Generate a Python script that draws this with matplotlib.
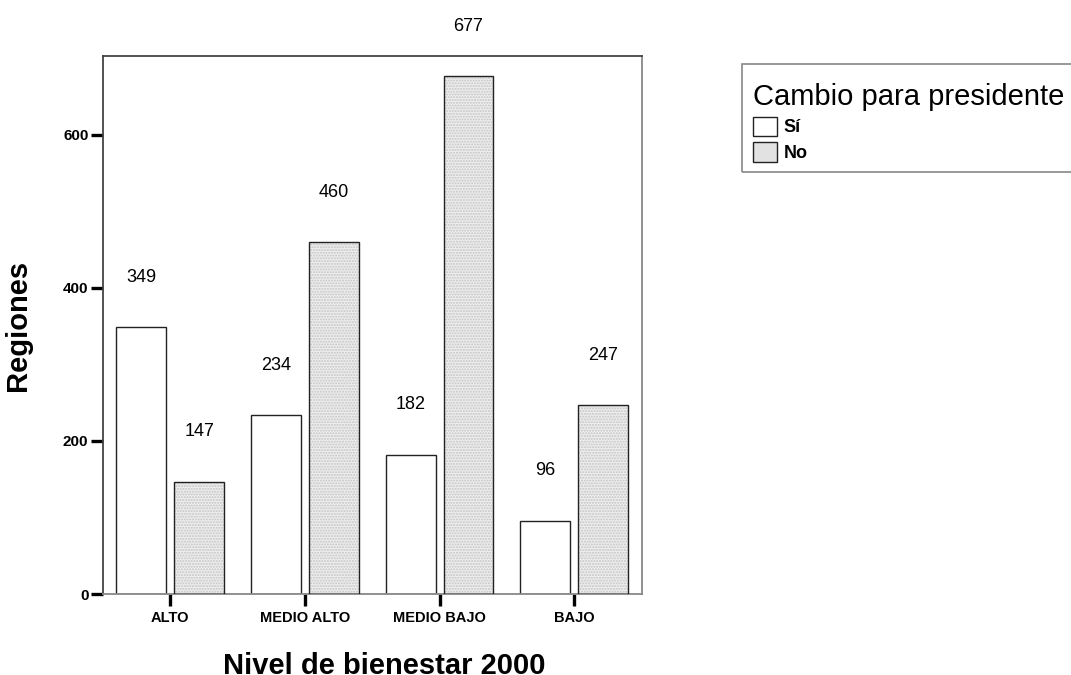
import matplotlib.pyplot as plt
import numpy as np
from matplotlib.patches import Patch, Rectangle

# data
niveles = ["ALTO", "MEDIO ALTO", "MEDIO BAJO", "BAJO"]
si = [349, 234, 182, 96]
no = [147, 460, 677, 247]

plt.rcParams["font.family"] = ["Liberation Sans", "DejaVu Sans"]


def main():
    fig = plt.figure(figsize=(10.71, 6.75), dpi=100)
    ax = fig.add_axes([0.0962, 0.12, 0.5028, 0.797])

    x = np.arange(len(niveles))
    w = 0.37
    off = 0.215

    ax.bar(x - off, si, w, facecolor="white", edgecolor="#222222", linewidth=1.0, zorder=2)
    # stippled grey bars: hatch layer then outline
    ax.bar(x + off, no, w, facecolor="#eeeeee", edgecolor="#c4c4c4", hatch="......",
           linewidth=0, zorder=2)
    ax.bar(x + off, no, w, fill=False, edgecolor="#222222", linewidth=1.0, zorder=3)

    # value labels above the bars
    for xi, v in zip(x, si):
        ax.text(xi - off, v + 65, str(v), ha="center", va="center", fontsize=13)
    for xi, v in zip(x, no):
        ax.text(xi + off, v + 65, str(v), ha="center", va="center", fontsize=13,
                clip_on=False)

    ax.set_xlim(-0.5, 3.5)
    ax.set_ylim(0, 703)
    ax.set_xticks(x)
    ax.set_xticklabels(niveles, fontweight="bold", fontsize=10.5)
    ax.set_yticks([0, 200, 400, 600])
    ax.set_yticklabels(["0", "200", "400", "600"], fontweight="bold", fontsize=11)
    ax.tick_params(axis="both", length=8.5, width=2.4, color="black", pad=2)
    ax.tick_params(axis="x", pad=4)

    for s in ["left", "top"]:
        ax.spines[s].set_color("#444444")
    for s in ["right", "bottom"]:
        ax.spines[s].set_color("#888888")
    for s in ax.spines.values():
        s.set_linewidth(1.3)

    ax.set_xlabel("Nivel de bienestar 2000", fontsize=21, fontweight="bold", labelpad=19)
    ax.xaxis.label.set_x(0.523)
    ax.set_ylabel("Regiones", fontsize=21, fontweight="bold", labelpad=22)

    # legend (frame drawn separately, it runs off the right edge)
    handles = [
        Patch(facecolor="white", edgecolor="#222222", linewidth=1.0),
        Patch(facecolor="#e2e2e2", edgecolor="#222222", linewidth=1.0),
    ]
    fig.legend(handles, ["Sí", "No"], title="Cambio para presidente",
               loc="upper left", bbox_to_anchor=(745 / 1071, 1 - 75 / 675),
               frameon=False, prop={"weight": "bold", "size": 13}, title_fontsize=21,
               handlelength=1.3, handleheight=1.3, handletextpad=0.4,
               labelspacing=0.3, borderpad=0.45, borderaxespad=0,
               alignment="left")
    fig.add_artist(Rectangle((742 / 1071, 1 - 172 / 675), 0.35, 108 / 675,
                             transform=fig.transFigure, fill=False,
                             edgecolor="#888888", linewidth=1.2))

    fig.savefig("out.png", dpi=100)


if __name__ == "__main__":
    main()
